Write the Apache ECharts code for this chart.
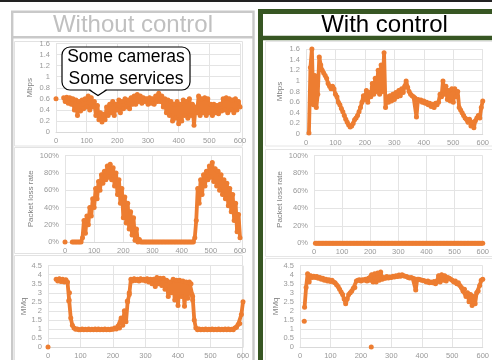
<!DOCTYPE html>
<html>
<head>
<meta charset="utf-8">
<script src="https://cdn.jsdelivr.net/npm/echarts@6/dist/echarts.min.js"></script>
<style>
  html, body { margin: 0; padding: 0; background: #fff; }
  #chart { width: 492px; height: 360px; }
</style>
</head>
<body>
<div id="chart"></div>
<script>
// time in seconds, one sample every 5 s
const seconds = [
  0, 5, 10, 15, 20, 25, 30, 35, 40, 45,
  50, 55, 60, 65, 70, 75, 80, 85, 90, 95,
  100, 105, 110, 115, 120, 125, 130, 135, 140, 145,
  150, 155, 160, 165, 170, 175, 180, 185, 190, 195,
  200, 205, 210, 215, 220, 225, 230, 235, 240, 245,
  250, 255, 260, 265, 270, 275, 280, 285, 290, 295,
  300, 305, 310, 315, 320, 325, 330, 335, 340, 345,
  350, 355, 360, 365, 370, 375, 380, 385, 390, 395,
  400, 405, 410, 415, 420, 425, 430, 435, 440, 445,
  450, 455, 460, 465, 470, 475, 480, 485, 490, 495,
  500, 505, 510, 515, 520, 525, 530, 535, 540, 545,
  550, 555, 560, 565, 570, 575, 580, 585, 590, 595,
  600
];

// Without control
const noCtrlMbps = [
  null, null, null, null, null, 0.62, 0.55, 0.63, 0.52, 0.62,
  0.5, 0.6, 0.4, 0.58, 0.3, 0.55, 0.38, 0.58, 0.42, 0.6,
  0.45, 0.65, 0.4, 0.62, 0.45, 0.55, 0.3, 0.48, 0.22, 0.35,
  0.18, 0.32, 0.22, 0.45, 0.3, 0.5, 0.35, 0.55, 0.3, 0.5,
  0.4, 0.58, 0.35, 0.55, 0.42, 0.6, 0.45, 0.58, 0.42, 0.62,
  0.5, 0.65, 0.5, 0.68, 0.55, 0.65, 0.52, 0.62, 0.55, 0.6,
  0.5, 0.62, 0.52, 0.6, 0.5, 0.65, 0.55, 0.7, 0.55, 0.65,
  0.45, 0.6, 0.35, 0.58, 0.3, 0.55, 0.2, 0.5, 0.25, 0.55,
  0.15, 0.5, 0.2, 0.58, 0.3, 0.55, 0.25, 0.6, 0.3, 0.5,
  0.12, 0.45, 0.35, 0.65, 0.3, 0.6, 0.35, 0.62, 0.3, 0.6,
  0.35, 0.5, 0.3, 0.5, 0.35, 0.48, 0.33, 0.5, 0.38, 0.6,
  0.4, 0.62, 0.35, 0.6, 0.4, 0.58, 0.35, 0.6, 0.4, 0.55,
  0.45
];
const noCtrlLoss = [
  null, null, null, null, null, 0, 0, 0, 0, 0,
  0, 0, 5, 25, 10, 30, 20, 40, 30, 50,
  40, 62, 50, 70, 60, 78, 68, 82, 72, 88,
  75, 90, 72, 86, 65, 80, 55, 72, 45, 62,
  28, 52, 22, 45, 15, 35, 8, 28, 2, 15,
  0, 3, 0, 0, 0, 0, 0, 0, 0, 0,
  0, 0, 0, 0, 0, 0, 0, 0, 0, 0,
  0, 0, 0, 0, 0, 0, 0, 0, 0, 0,
  0, 0, 0, 0, 0, 0, 0, 0, 0, 5,
  25, 62, 45, 72, 55, 78, 65, 82, 72, 88,
  75, 92, 70, 85, 65, 82, 60, 78, 55, 72,
  50, 68, 42, 62, 35, 55, 25, 45, 12, 32,
  5
];
const noCtrlMmq = [
  null, null, null, null, null, 3.75, 3.65, 3.78, 3.62, 3.75,
  3.6, 3.72, 3.6, 2.6, 1.6, 1.2, 1.05, 0.98, 1.0, 0.95,
  0.95, 1.0, 0.95, 0.98, 0.95, 1.0, 0.95, 0.98, 0.95, 1.0,
  0.95, 1.0, 0.95, 0.98, 0.95, 1.0, 0.95, 0.98, 0.95, 1.0,
  0.98, 1.05, 1.0, 1.15, 1.05, 1.6, 1.2, 2.0, 1.4, 2.5,
  2.9, 3.75, 3.65, 3.78, 3.68, 3.75, 3.65, 3.78, 3.7, 3.75,
  3.65, 3.78, 3.6, 3.75, 3.5, 3.75, 3.35, 3.85, 3.5, 3.8,
  3.4, 3.8, 3.2, 3.7, 2.8, 3.6, 3.0, 3.75, 2.6, 3.7,
  2.3, 3.7, 2.8, 3.65, 2.25, 3.6, 2.7, 3.6, 3.5, 2.8,
  1.5, 1.05, 0.95, 1.0, 0.95, 0.98, 0.95, 1.0, 0.95, 0.98,
  0.95, 1.0, 0.95, 0.98, 0.95, 1.0, 0.95, 0.98, 0.95, 1.0,
  0.95, 1.0, 0.95, 0.98, 0.95, 1.05, 1.1, 1.25, 1.3, 1.8,
  2.5
];
// isolated samples, [second, value]
const noCtrlMbpsDots = [[0, 0.6]];
const noCtrlLossDots = [[0, 0]];
const noCtrlMmqDots = [[0, 0], [64, 2.55], [66, 3.0], [244, 2.55], [250, 3.0], [443, 2.9], [445, 2.6]];

// With control
const ctrlMbps = [
  null, null, 0.02, 1.25, 1.6, 0.55, 1.1, 0.5, 0.75, 1.45,
  1.3, 1.2, 1.15, 1.1, 1.05, 0.95, 0.9, 0.85, 0.9, 0.85,
  0.75, 0.7, 0.6, 0.55, 0.48, 0.42, 0.35, 0.28, 0.22, 0.17,
  0.13, 0.15, 0.2, 0.27, 0.3, 0.35, 0.42, 0.5, 0.6, 0.72,
  0.65, 0.82, 0.6, 0.78, 0.7, 0.95, 0.75, 1.05, 0.8, 1.2,
  0.75, 1.3, 0.8, 1.53, 0.5, 0.7, 0.6, 0.72, 0.62, 0.75,
  0.65, 0.78, 0.7, 0.82, 0.72, 0.85, 0.78, 0.9, 1.0, 0.88,
  0.8, 0.75, 0.72, 0.7, 0.68, 0.32, 0.65, 0.62, 0.64, 0.6,
  0.62, 0.58, 0.6, 0.55, 0.58, 0.52, 0.56, 0.5, 0.58, 0.55,
  0.6, 0.75, 0.7, 1.0, 0.75, 0.9, 0.65, 0.82, 0.62, 0.85,
  0.6, 0.85, 0.7, 0.8, 0.5, 0.45, 0.4, 0.35, 0.3, 0.28,
  0.22, 0.28, 0.15, 0.22, 0.12, 0.25, 0.3, 0.35, 0.3, 0.5,
  0.62
];
const ctrlLoss = [
  null, 0, 0, 0, 0, 0, 0, 0, 0, 0,
  0, 0, 0, 0, 0, 0, 0, 0, 0, 0,
  0, 0, 0, 0, 0, 0, 0, 0, 0, 0,
  0, 0, 0, 0, 0, 0, 0, 0, 0, 0,
  0, 0, 0, 0, 0, 0, 0, 0, 0, 0,
  0, 0, 0, 0, 0, 0, 0, 0, 0, 0,
  0, 0, 0, 0, 0, 0, 0, 0, 0, 0,
  0, 0, 0, 0, 0, 0, 0, 0, 0, 0,
  0, 0, 0, 0, 0, 0, 0, 0, 0, 0,
  0, 0, 0, 0, 0, 0, 0, 0, 0, 0,
  0, 0, 0, 0, 0, 0, 0, 0, 0, 0,
  0, 0, 0, 0, 0, 0, 0, 0, 0, 0,
  0
];
const ctrlMmq = [
  null, null, null, 2.2, 3.3, 4.05, 3.6, 3.95, 3.85, 3.92,
  3.85, 3.9, 3.8, 3.85, 3.75, 3.8, 3.7, 3.75, 3.65, 3.72,
  3.62, 3.7, 3.6, 3.55, 3.45, 3.35, 3.2, 3.05, 2.9, 2.65,
  2.4, 2.65, 2.9, 3.0, 3.1, 3.25, 3.3, 3.65, 3.7, 3.72,
  3.65, 3.72, 3.7, 3.75, 3.65, 3.8, 3.7, 4.0, 3.6, 4.05,
  3.6, 4.1, 3.7, 4.15, 3.75, 3.85, 3.8, 3.9, 3.82, 3.88,
  3.85, 3.92, 3.88, 3.95, 3.9, 3.98, 3.92, 4.0, 3.95, 3.92,
  3.9, 3.85, 3.82, 3.85, 3.8, 3.78, 3.15, 3.75, 3.75, 3.72,
  3.7, 3.68, 3.65, 3.6, 3.65, 3.55, 3.6, 3.55, 3.62, 3.5,
  3.65, 3.95, 3.6, 4.0, 3.7, 3.95, 3.65, 3.85, 3.8, 3.75,
  3.7, 3.6, 3.65, 3.5, 3.55, 3.4, 3.3, 3.1, 3.2, 2.8,
  3.0, 2.5, 2.9, 2.3, 2.8, 2.4, 3.0, 3.1, 3.4, 3.7,
  3.75
];
const ctrlMmqDots = [[14, 1.42], [234, 0]];

const ORANGE = '#ED7D31';
const FONT = 'Liberation Sans';

const pairs = (vals) => seconds.map((s, i) => [s, vals[i] == null ? '-' : vals[i]]);

// plot rectangles (px), one per small chart
const grids = [
  { left: 56, top: 43.5, width: 184, height: 88.5 },
  { left: 65, top: 155.7, width: 175, height: 86.3 },
  { left: 48, top: 265.7, width: 195, height: 86.8 },
  { left: 306, top: 49, width: 182, height: 85 },
  { left: 314, top: 155.7, width: 173, height: 87.6 },
  { left: 300, top: 265.7, width: 188, height: 87.6 },
];

const xAxes = grids.map((g, i) => ({
  type: 'value', gridIndex: i, min: 0, max: 600, interval: 100,
  axisLine: { lineStyle: { color: '#d9d9d9' } },
  axisTick: { show: false },
  axisLabel: { color: '#999', fontSize: 7.5, margin: 5, fontFamily: FONT },
  splitLine: { show: true, lineStyle: { color: '#e4e4e4' } },
}));

function yAxis(i, name, max, interval, gap, fmt) {
  return {
    type: 'value', gridIndex: i, min: 0, max: max, interval: interval,
    name: name, nameLocation: 'middle', nameGap: gap,
    nameTextStyle: { color: '#7f7f7f', fontSize: 8, fontFamily: FONT },
    axisLine: { show: false }, axisTick: { show: false },
    axisLabel: { color: '#999', fontSize: 7.5, margin: 6, fontFamily: FONT, formatter: fmt },
    splitLine: { lineStyle: { color: '#e4e4e4' } },
  };
}
const yAxes = [
  yAxis(0, 'Mbps', 1.6, 0.2, 22),
  yAxis(1, 'Packet loss rate', 100, 20, 30, '{value}%'),
  yAxis(2, 'MMq', 4.5, 0.5, 19),
  yAxis(3, 'Mbps', 1.6, 0.2, 22),
  yAxis(4, 'Packet loss rate', 100, 20, 30, '{value}%'),
  yAxis(5, 'MMq', 4.5, 0.5, 19),
];

function trace(i, vals) {
  return {
    type: 'line', xAxisIndex: i, yAxisIndex: i, data: pairs(vals),
    symbol: 'circle', symbolSize: 5, showSymbol: true, clip: false,
    itemStyle: { color: ORANGE }, lineStyle: { color: ORANGE, width: 3.8, join: 'round' },
    animation: false, silent: true,
  };
}
function dots(i, pts) {
  return {
    type: 'scatter', xAxisIndex: i, yAxisIndex: i, data: pts,
    symbolSize: 5, itemStyle: { color: ORANGE, opacity: 1 }, clip: false,
    animation: false, silent: true,
  };
}

const graphics = [
  // top rule
  { type: 'rect', shape: { x: 0, y: 0, width: 492, height: 2 }, style: { fill: '#222' } },
  // left panel frame
  { type: 'rect', shape: { x: 12.2, y: 11.8, width: 241.3, height: 360 }, style: { fill: 'none', stroke: '#c9c9c9', lineWidth: 2.4 } },
  { type: 'line', shape: { x1: 12, y1: 37.2, x2: 254, y2: 37.2 }, style: { stroke: '#c9c9c9', lineWidth: 2.4 } },
  // sub chart boxes, left
  { type: 'rect', shape: { x: 14.5, y: 41.5, width: 228, height: 104.5 }, style: { fill: 'none', stroke: '#e2e2e2', lineWidth: 1 } },
  { type: 'rect', shape: { x: 14.5, y: 147.5, width: 228, height: 106 }, style: { fill: 'none', stroke: '#e2e2e2', lineWidth: 1 } },
  { type: 'rect', shape: { x: 14.5, y: 255.5, width: 228, height: 110 }, style: { fill: 'none', stroke: '#e2e2e2', lineWidth: 1 } },
  // sub chart boxes, right
  { type: 'rect', shape: { x: 265.5, y: 41.5, width: 230, height: 104.5 }, style: { fill: 'none', stroke: '#e6e6e6', lineWidth: 1 } },
  { type: 'rect', shape: { x: 265.5, y: 149.5, width: 230, height: 107 }, style: { fill: 'none', stroke: '#e6e6e6', lineWidth: 1 } },
  { type: 'rect', shape: { x: 265.5, y: 258.5, width: 230, height: 110 }, style: { fill: 'none', stroke: '#e6e6e6', lineWidth: 1 } },
  // right panel frame
  { type: 'rect', shape: { x: 260.5, y: 11.5, width: 260, height: 360 }, style: { fill: 'none', stroke: '#375623', lineWidth: 5 } },
  { type: 'line', shape: { x1: 258, y1: 38, x2: 492, y2: 38 }, style: { stroke: '#375623', lineWidth: 4.5 } },
  // titles
  { type: 'text', x: 133, y: 25, style: { text: 'Without control', fill: '#c0c0c0', font: '24px "Liberation Sans"', textAlign: 'center', textVerticalAlign: 'middle' } },
  { type: 'text', x: 384.5, y: 25, style: { text: 'With control', fill: '#000', font: '24px "Liberation Sans"', textAlign: 'center', textVerticalAlign: 'middle' } },
  // callout
  { type: 'rect', z: 100, shape: { x: 62, y: 47, width: 128, height: 43, r: 8 }, style: { fill: '#fff', stroke: '#000', lineWidth: 1.2 } },
  { type: 'polygon', z: 101, shape: { points: [[90, 89], [106, 89], [98, 95.5]] }, style: { fill: '#fff' } },
  { type: 'polyline', z: 102, shape: { points: [[89.5, 90], [98, 95.5], [106.5, 90]] }, style: { fill: 'none', stroke: '#000', lineWidth: 1.2 } },
  { type: 'text', z: 103, x: 126, y: 57, style: { text: 'Some cameras', fill: '#000', font: '17.5px "Liberation Sans"', textAlign: 'center', textVerticalAlign: 'middle' } },
  { type: 'text', z: 103, x: 126, y: 79, style: { text: 'Some services', fill: '#000', font: '17.5px "Liberation Sans"', textAlign: 'center', textVerticalAlign: 'middle' } },
];

const chart = echarts.init(document.getElementById('chart'), null, { renderer: 'canvas' });
chart.setOption({
  backgroundColor: '#fff',
  animation: false,
  textStyle: { fontFamily: FONT },
  grid: grids,
  xAxis: xAxes,
  yAxis: yAxes,
  series: [
    trace(0, noCtrlMbps), dots(0, noCtrlMbpsDots),
    trace(1, noCtrlLoss), dots(1, noCtrlLossDots),
    trace(2, noCtrlMmq), dots(2, noCtrlMmqDots),
    trace(3, ctrlMbps),
    trace(4, ctrlLoss),
    trace(5, ctrlMmq), dots(5, ctrlMmqDots),
  ],
  graphic: graphics,
});
</script>
</body>
</html>
